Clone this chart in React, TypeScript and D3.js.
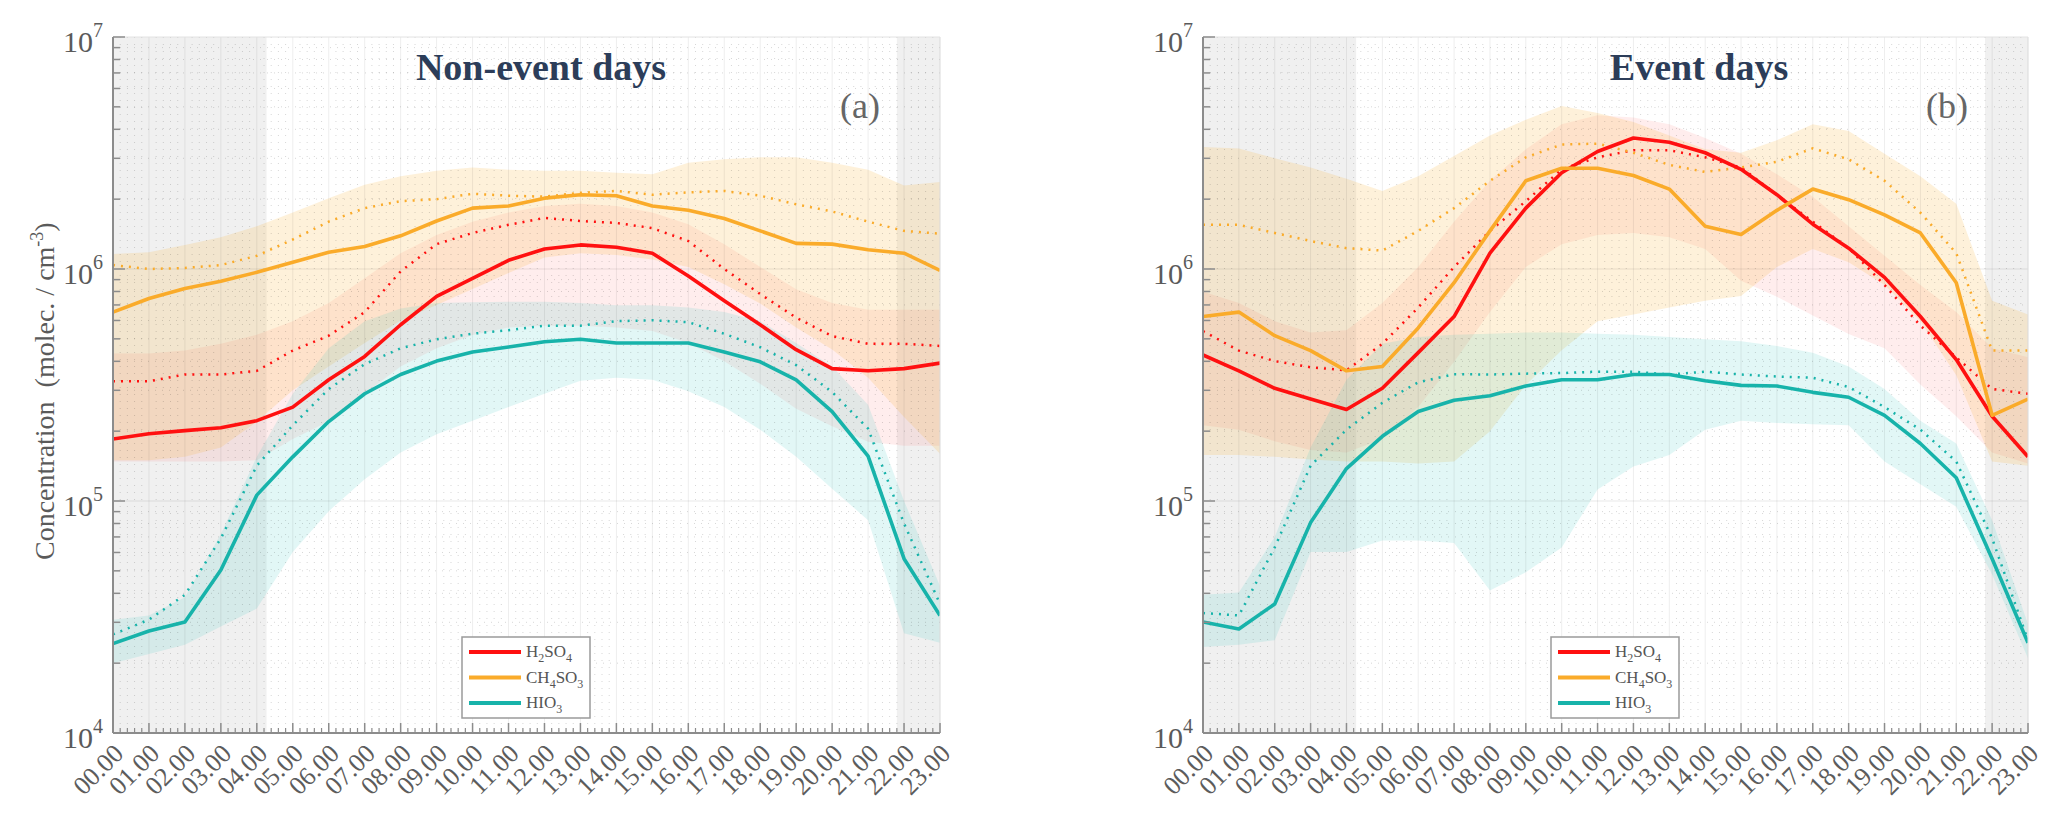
import { type FC } from 'react';
import * as d3 from 'd3';

// ---------- data ----------
const hours = d3.range(24);
const hourLabels = [
  '00.00', '01.00', '02.00', '03.00', '04.00', '05.00', '06.00', '07.00',
  '08.00', '09.00', '10.00', '11.00', '12.00', '13.00', '14.00', '15.00',
  '16.00', '17.00', '18.00', '19.00', '20.00', '21.00', '22.00', '23.00',
];
const yMajorTicks = [1e4, 1e5, 1e6, 1e7];
const yTickExponents = ['4', '5', '6', '7'];
// night (grey) periods, in hours
const nightSpans: [number, number][] = [[0, 4.27], [21.8, 23]];

// Non-event days
const neH2SO4Median = [1.85e5, 1.95e5, 2.01e5, 2.07e5, 2.22e5, 2.54e5, 3.33e5, 4.2e5, 5.75e5, 7.62e5, 9.12e5, 1.09e6, 1.22e6, 1.27e6, 1.24e6, 1.17e6, 9.33e5, 7.29e5, 5.75e5, 4.49e5, 3.72e5, 3.64e5, 3.72e5, 3.93e5];
const neH2SO4Mean = [3.28e5, 3.28e5, 3.51e5, 3.51e5, 3.64e5, 4.45e5, 5.16e5, 6.52e5, 9.77e5, 1.28e6, 1.43e6, 1.55e6, 1.66e6, 1.61e6, 1.58e6, 1.5e6, 1.32e6, 1.0e6, 7.8e5, 6.17e5, 5.14e5, 4.76e5, 4.76e5, 4.66e5];
const neH2SO4Low = [1.48e5, 1.48e5, 1.48e5, 1.48e5, 1.5e5, 1.85e5, 2.2e5, 2.9e5, 3.8e5, 4.55e5, 5.2e5, 5.6e5, 5.7e5, 5.7e5, 5.6e5, 5.4e5, 4.8e5, 4.0e5, 3.2e5, 2.5e5, 2.1e5, 1.8e5, 1.73e5, 1.73e5];
const neH2SO4High = [4.32e5, 4.32e5, 4.45e5, 4.76e5, 5.21e5, 5.96e5, 7.13e5, 9.12e5, 1.17e6, 1.4e6, 1.6e6, 1.75e6, 1.87e6, 1.91e6, 1.87e6, 1.75e6, 1.56e6, 1.28e6, 1.02e6, 8.17e5, 7.13e5, 6.67e5, 6.67e5, 6.67e5];

const neMSAMedian = [6.52e5, 7.46e5, 8.24e5, 8.85e5, 9.68e5, 1.07e6, 1.18e6, 1.25e6, 1.39e6, 1.61e6, 1.83e6, 1.87e6, 2.02e6, 2.09e6, 2.07e6, 1.87e6, 1.79e6, 1.65e6, 1.46e6, 1.29e6, 1.28e6, 1.21e6, 1.17e6, 9.86e5];
const neMSAMean = [1.04e6, 1.0e6, 1.01e6, 1.04e6, 1.14e6, 1.34e6, 1.6e6, 1.83e6, 1.96e6, 2.0e6, 2.11e6, 2.07e6, 2.05e6, 2.13e6, 2.17e6, 2.09e6, 2.14e6, 2.17e6, 2.07e6, 1.9e6, 1.77e6, 1.6e6, 1.46e6, 1.42e6];
const neMSALow = [1.5e5, 1.5e5, 1.55e5, 1.7e5, 2.2e5, 3.0e5, 3.8e5, 4.8e5, 6.0e5, 7.0e5, 8.2e5, 9.6e5, 1.12e6, 1.17e6, 1.15e6, 1.1e6, 1.02e6, 8.6e5, 7.1e5, 5.6e5, 4.5e5, 3.4e5, 2.3e5, 1.6e5];
const neMSAHigh = [1.16e6, 1.18e6, 1.27e6, 1.37e6, 1.53e6, 1.75e6, 2.02e6, 2.31e6, 2.51e6, 2.65e6, 2.74e6, 2.68e6, 2.65e6, 2.65e6, 2.6e6, 2.56e6, 2.87e6, 2.97e6, 3.03e6, 3.03e6, 2.87e6, 2.68e6, 2.29e6, 2.37e6];

const neHIO3Median = [2.43e4, 2.75e4, 3.01e4, 5.04e4, 1.06e5, 1.55e5, 2.2e5, 2.9e5, 3.51e5, 4.01e5, 4.39e5, 4.61e5, 4.86e5, 4.98e5, 4.8e5, 4.8e5, 4.8e5, 4.39e5, 3.98e5, 3.33e5, 2.43e5, 1.56e5, 5.64e4, 3.21e4];
const neHIO3Mean = [2.66e4, 3.08e4, 3.94e4, 6.9e4, 1.42e5, 2.12e5, 3.04e5, 3.89e5, 4.55e5, 4.98e5, 5.26e5, 5.45e5, 5.7e5, 5.7e5, 5.96e5, 6.01e5, 5.9e5, 5.26e5, 4.6e5, 3.85e5, 2.95e5, 2.05e5, 8.0e4, 3.6e4];
const neHIO3Low = [2.0e4, 2.19e4, 2.4e4, 2.88e4, 3.44e4, 6.03e4, 9.04e4, 1.24e5, 1.62e5, 1.94e5, 2.22e5, 2.54e5, 2.9e5, 3.3e5, 3.4e5, 3.33e5, 2.97e5, 2.54e5, 2.03e5, 1.55e5, 1.13e5, 8.26e4, 2.69e4, 2.45e4];
const neHIO3High = [3.08e4, 3.21e4, 3.85e4, 7.21e4, 1.55e5, 2.9e5, 4.55e5, 5.96e5, 6.76e5, 7.13e5, 7.19e5, 7.23e5, 7.23e5, 7.13e5, 6.97e5, 6.97e5, 6.82e5, 6.52e5, 5.96e5, 4.8e5, 3.8e5, 2.6e5, 1.0e5, 4.3e4];

// Event days
const evH2SO4Median = [4.26e5, 3.64e5, 3.06e5, 2.75e5, 2.48e5, 3.06e5, 4.36e5, 6.24e5, 1.17e6, 1.83e6, 2.6e6, 3.21e6, 3.67e6, 3.52e6, 3.17e6, 2.69e6, 2.09e6, 1.56e6, 1.23e6, 9.2e5, 6.24e5, 4.07e5, 2.32e5, 1.55e5];
const evH2SO4Mean = [5.4e5, 4.45e5, 4.01e5, 3.77e5, 3.66e5, 4.76e5, 6.82e5, 1.02e6, 1.46e6, 1.96e6, 2.69e6, 3.03e6, 3.25e6, 3.25e6, 3.03e6, 2.74e6, 2.09e6, 1.6e6, 1.23e6, 8.53e5, 5.7e5, 4.16e5, 3.04e5, 2.9e5];
const evH2SO4Low = [2.12e5, 2.03e5, 1.81e5, 1.66e5, 1.62e5, 1.85e5, 2.54e5, 3.98e5, 6.52e5, 1.02e6, 1.28e6, 1.4e6, 1.43e6, 1.37e6, 1.22e6, 8.91e5, 7.59e5, 6.31e5, 5.25e5, 4.55e5, 3.18e5, 2.32e5, 1.62e5, 1.45e5];
const evH2SO4High = [7.98e5, 7.13e5, 5.96e5, 5.33e5, 5.44e5, 7.13e5, 1.02e6, 1.6e6, 2.4e6, 3.28e6, 4.21e6, 4.6e6, 4.5e6, 4.21e6, 3.67e6, 3.14e6, 2.56e6, 2.05e6, 1.53e6, 1.14e6, 8.53e5, 6.52e5, 4.55e5, 4.16e5];

const evMSAMedian = [6.24e5, 6.52e5, 5.16e5, 4.45e5, 3.64e5, 3.8e5, 5.57e5, 8.73e5, 1.46e6, 2.4e6, 2.72e6, 2.72e6, 2.53e6, 2.21e6, 1.53e6, 1.41e6, 1.79e6, 2.21e6, 1.99e6, 1.71e6, 1.43e6, 8.73e5, 2.34e5, 2.75e5];
const evMSAMean = [1.55e6, 1.55e6, 1.43e6, 1.32e6, 1.23e6, 1.2e6, 1.46e6, 1.83e6, 2.4e6, 3.03e6, 3.44e6, 3.47e6, 3.17e6, 2.81e6, 2.62e6, 2.74e6, 2.9e6, 3.31e6, 2.97e6, 2.4e6, 1.75e6, 1.17e6, 4.45e5, 4.45e5];
const evMSALow = [1.58e5, 1.58e5, 1.55e5, 1.51e5, 1.48e5, 1.48e5, 1.45e5, 1.48e5, 2.0e5, 3.16e5, 4.47e5, 5.96e5, 6.37e5, 6.82e5, 7.29e5, 7.64e5, 1.02e6, 1.22e6, 1.07e6, 8.53e5, 5.96e5, 3.48e5, 1.48e5, 1.42e5];
const evMSAHigh = [3.36e6, 3.31e6, 3.0e6, 2.74e6, 2.45e6, 2.17e6, 2.51e6, 3.07e6, 3.76e6, 4.4e6, 5.04e6, 4.7e6, 4.3e6, 3.76e6, 3.28e6, 3.17e6, 3.59e6, 4.21e6, 3.93e6, 3.14e6, 2.51e6, 1.91e6, 7.29e5, 6.37e5];

const evHIO3Median = [3.01e4, 2.81e4, 3.6e4, 8.07e4, 1.38e5, 1.9e5, 2.43e5, 2.72e5, 2.84e5, 3.13e5, 3.33e5, 3.33e5, 3.51e5, 3.51e5, 3.3e5, 3.15e5, 3.13e5, 2.94e5, 2.8e5, 2.34e5, 1.77e5, 1.26e5, 5.64e4, 2.45e4];
const evHIO3Mean = [3.29e4, 3.21e4, 6.31e4, 1.42e5, 2.03e5, 2.65e5, 3.25e5, 3.52e5, 3.51e5, 3.54e5, 3.56e5, 3.61e5, 3.61e5, 3.51e5, 3.61e5, 3.51e5, 3.44e5, 3.4e5, 3.1e5, 2.54e5, 2.03e5, 1.48e5, 6.9e4, 2.51e4];
const evHIO3Low = [2.35e4, 2.4e4, 2.51e4, 6.03e4, 6.03e4, 6.75e4, 6.75e4, 6.59e4, 4.11e4, 4.93e4, 6.31e4, 1.12e5, 1.41e5, 1.58e5, 2.03e5, 2.22e5, 2.17e5, 2.14e5, 2.12e5, 1.48e5, 1.18e5, 9.44e4, 4.82e4, 2.1e4];
const evHIO3High = [3.94e4, 4.03e4, 7.0e4, 1.7e5, 3.33e5, 4.76e5, 5.09e5, 5.21e5, 5.26e5, 5.33e5, 5.33e5, 5.26e5, 5.21e5, 5.09e5, 4.98e5, 4.88e5, 4.66e5, 4.36e5, 3.8e5, 3.04e5, 2.22e5, 1.77e5, 8.26e4, 2.94e4];

// ---------- styling ----------
const SERIF = '"Liberation Serif", "DejaVu Serif", serif';
const RED = '#ff1010';
const ORANGE = '#faab2a';
const TEAL = '#17b3aa';
const PLOT_TOP = 37;
const PLOT_BOTTOM = 733;

interface Species {
  key: string;
  color: string;
  fill: string;
  fillOpacity: number;
  median: number[];
  mean: number[];
  lo: number[];
  hi: number[];
}

interface PanelConfig {
  id: string;
  x0: number;
  x1: number;
  title: string;
  titleX: number;
  tag: string;
  legendX: number;
  showYLabel: boolean;
  species: Species[];
}

const makeSpecies = (
  h2so4: number[][],
  msa: number[][],
  hio3: number[][],
): Species[] => [
  { key: 'h2so4', color: RED, fill: '#ff6b6b', fillOpacity: 0.12, median: h2so4[0], mean: h2so4[1], lo: h2so4[2], hi: h2so4[3] },
  { key: 'msa', color: ORANGE, fill: '#f8b43a', fillOpacity: 0.19, median: msa[0], mean: msa[1], lo: msa[2], hi: msa[3] },
  { key: 'hio3', color: TEAL, fill: '#3cc8c0', fillOpacity: 0.15, median: hio3[0], mean: hio3[1], lo: hio3[2], hi: hio3[3] },
];

const panels: PanelConfig[] = [
  {
    id: 'a', x0: 113, x1: 940, title: 'Non-event days', titleX: 541, tag: '(a)', legendX: 462, showYLabel: true,
    species: makeSpecies(
      [neH2SO4Median, neH2SO4Mean, neH2SO4Low, neH2SO4High],
      [neMSAMedian, neMSAMean, neMSALow, neMSAHigh],
      [neHIO3Median, neHIO3Mean, neHIO3Low, neHIO3High],
    ),
  },
  {
    id: 'b', x0: 1203, x1: 2028, title: 'Event days', titleX: 1699, tag: '(b)', legendX: 1551, showYLabel: false,
    species: makeSpecies(
      [evH2SO4Median, evH2SO4Mean, evH2SO4Low, evH2SO4High],
      [evMSAMedian, evMSAMean, evMSALow, evMSAHigh],
      [evHIO3Median, evHIO3Mean, evHIO3Low, evHIO3High],
    ),
  },
];

const legendItems: { color: string; parts: [string, string][] }[] = [
  { color: RED, parts: [['H', '2'], ['SO', '4']] },
  { color: ORANGE, parts: [['CH', '4'], ['SO', '3']] },
  { color: TEAL, parts: [['HIO', '3']] },
];

// chemical formula as tspans, subscripts shifted down
const formulaSpans = (parts: [string, string][]) =>
  parts.flatMap(([main, sub], i) => {
    const back = i > 0 && parts[i - 1][1] ? -5 : 0;
    const out = [<tspan key={`m${i}`} dy={back}>{main}</tspan>];
    if (sub) out.push(<tspan key={`s${i}`} dy={5} fontSize={12}>{sub}</tspan>);
    return out;
  });

const Panel: FC<{ cfg: PanelConfig }> = ({ cfg }) => {
  const x = d3.scaleLinear().domain([0, 23]).range([cfg.x0, cfg.x1]);
  const y = d3.scaleLog().domain([1e4, 1e7]).range([PLOT_BOTTOM, PLOT_TOP]);

  const line = d3
    .line<number>()
    .x((_, i) => x(hours[i]))
    .y((d) => y(d));
  const band = (lo: number[], hi: number[]) =>
    d3
      .area<number>()
      .x((_, i) => x(hours[i]))
      .y0((_, i) => y(lo[i]))
      .y1((d) => y(d))(hi) ?? '';

  const minorX = d3.range(0, 23.001, 0.2).filter((v) => Math.abs(v - Math.round(v)) > 0.01);
  const minorY = [4, 5, 6].flatMap((d) => [2, 3, 4, 5, 6, 7, 8, 9].map((k) => k * 10 ** d));
  const clipId = `clip-${cfg.id}`;

  const lg = { x: cfg.legendX, y: 637, w: 128, h: 81 };

  return (
    <g>
      <defs>
        <clipPath id={clipId}>
          <rect x={cfg.x0} y={PLOT_TOP} width={cfg.x1 - cfg.x0} height={PLOT_BOTTOM - PLOT_TOP} />
        </clipPath>
      </defs>

      {/* night shading */}
      {nightSpans.map(([a, b], i) => (
        <rect key={i} x={x(a)} y={PLOT_TOP} width={x(b) - x(a)} height={PLOT_BOTTOM - PLOT_TOP} fill="#f0f0f0" />
      ))}

      {/* percentile bands */}
      <g clipPath={`url(#${clipId})`}>
        {cfg.species.map((s) => (
          <path key={s.key} d={band(s.lo, s.hi)} fill={s.fill} fillOpacity={s.fillOpacity} stroke="none" />
        ))}
      </g>

      {/* grid */}
      <g>
        {minorX.map((v) => (
          <line key={`mx${v}`} x1={x(v)} x2={x(v)} y1={PLOT_TOP} y2={PLOT_BOTTOM} stroke="#000" strokeOpacity={0.16} strokeDasharray="1 6" />
        ))}
        {minorY.map((v) => (
          <line key={`my${v}`} x1={cfg.x0} x2={cfg.x1} y1={y(v)} y2={y(v)} stroke="#000" strokeOpacity={0.16} strokeDasharray="1 6" />
        ))}
        {hours.map((h) => (
          <line key={`gx${h}`} x1={x(h)} x2={x(h)} y1={PLOT_TOP} y2={PLOT_BOTTOM} stroke="#000" strokeOpacity={0.07} />
        ))}
        {yMajorTicks.slice(1, 3).map((v) => (
          <line key={`gy${v}`} x1={cfg.x0} x2={cfg.x1} y1={y(v)} y2={y(v)} stroke="#000" strokeOpacity={0.09} />
        ))}
      </g>

      {/* mean (dotted) and median (solid) lines */}
      <g clipPath={`url(#${clipId})`} fill="none">
        {cfg.species.map((s) => (
          <path key={`mean-${s.key}`} d={line(s.mean) ?? ''} stroke={s.color} strokeWidth={2.5} strokeDasharray="2 6" />
        ))}
        {cfg.species.map((s) => (
          <path key={`med-${s.key}`} d={line(s.median) ?? ''} stroke={s.color} strokeWidth={3.6} strokeLinejoin="round" />
        ))}
      </g>

      {/* box */}
      <line x1={cfg.x0} x2={cfg.x1} y1={PLOT_TOP} y2={PLOT_TOP} stroke="#e2e2e2" />
      <line x1={cfg.x1} x2={cfg.x1} y1={PLOT_TOP} y2={PLOT_BOTTOM} stroke="#e2e2e2" />

      {/* y axis */}
      <line x1={cfg.x0} x2={cfg.x0} y1={PLOT_TOP} y2={PLOT_BOTTOM} stroke="#8c8c8c" strokeWidth={2} />
      {minorY.map((v) => (
        <line key={`ty${v}`} x1={cfg.x0} x2={cfg.x0 + 7} y1={y(v)} y2={y(v)} stroke="#8c8c8c" strokeWidth={1.5} />
      ))}
      {yMajorTicks.map((v, i) => (
        <g key={`yl${v}`}>
          <line x1={cfg.x0} x2={cfg.x0 + 12} y1={y(v)} y2={y(v)} stroke="#8c8c8c" strokeWidth={1.5} />
          <text x={cfg.x0 - 10} y={y(v) + 15} textAnchor="end" fontFamily={SERIF} fontSize={30} fill="#5a5a5a">
            10<tspan dy={-15} fontSize={20}>{yTickExponents[i]}</tspan>
          </text>
        </g>
      ))}

      {/* x axis */}
      <line x1={cfg.x0} x2={cfg.x1} y1={PLOT_BOTTOM} y2={PLOT_BOTTOM} stroke="#8c8c8c" strokeWidth={2} />
      {minorX.map((v) => (
        <line key={`tx${v}`} x1={x(v)} x2={x(v)} y1={PLOT_BOTTOM} y2={PLOT_BOTTOM - 5} stroke="#8c8c8c" strokeWidth={1.2} />
      ))}
      {hours.map((h) => (
        <g key={`xl${h}`}>
          <line x1={x(h)} x2={x(h)} y1={PLOT_BOTTOM} y2={PLOT_BOTTOM - 10} stroke="#8c8c8c" strokeWidth={1.5} />
          <text
            transform={`translate(${x(h) + 12},${PLOT_BOTTOM + 22}) rotate(-45)`}
            textAnchor="end"
            fontFamily={SERIF}
            fontSize={26}
            fill="#5c5c5c"
          >
            {hourLabels[h]}
          </text>
        </g>
      ))}

      {cfg.showYLabel && (
        <text transform={`translate(54,560) rotate(-90)`} fontFamily={SERIF} fontSize={28} fill="#5a5a5a">
          Concentration{'\u00a0\u00a0'}(molec. / cm<tspan dy={-11} fontSize={18}>-3</tspan>
          <tspan dy={11}>)</tspan>
        </text>
      )}

      {/* title and tag */}
      <text x={cfg.titleX} y={80} textAnchor="middle" fontFamily={SERIF} fontWeight="bold" fontSize={38} fill="#2c3d59">
        {cfg.title}
      </text>
      <text x={cfg.x1 - 60} y={118} textAnchor="end" fontFamily={SERIF} fontSize={36} fill="#666">
        {cfg.tag}
      </text>

      {/* legend */}
      <rect x={lg.x} y={lg.y} width={lg.w} height={lg.h} fill="#fff" stroke="#9a9a9a" strokeWidth={1.5} />
      {legendItems.map((item, i) => {
        const ry = lg.y + 15 + i * 25.5;
        return (
          <g key={i}>
            <line x1={lg.x + 7} x2={lg.x + 59} y1={ry} y2={ry} stroke={item.color} strokeWidth={4} />
            <text x={lg.x + 64} y={ry + 5} fontFamily={SERIF} fontSize={17} fill="#555">
              {formulaSpans(item.parts)}
            </text>
          </g>
        );
      })}
    </g>
  );
};

const App: FC = () => (
  <svg
    width={2067}
    height={822}
    viewBox="0 0 2067 822"
    style={{ position: 'absolute', left: 0, top: 0, background: '#fff' }}
  >
    {panels.map((p) => (
      <Panel key={p.id} cfg={p} />
    ))}
  </svg>
);

export default App;
